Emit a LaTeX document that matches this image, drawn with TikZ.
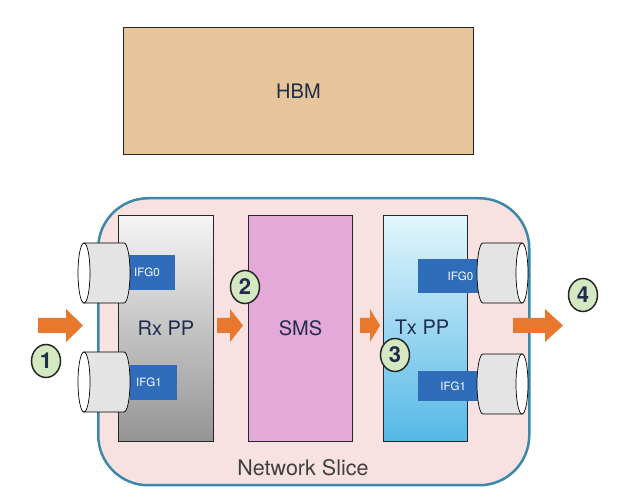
\documentclass[tikz,border=0pt]{standalone}
\usepackage{fontspec}
\setmainfont{TeX Gyre Heros}
\usetikzlibrary{shapes.geometric}

\definecolor{hbmtan}{HTML}{E6C59A}
\definecolor{slicepink}{HTML}{F7E1E1}
\definecolor{sliceblue}{HTML}{3C88A8}
\definecolor{smspink}{HTML}{E4A9D8}
\definecolor{ifgblue}{HTML}{2F6DBB}
\definecolor{cylgray}{HTML}{E4E4E4}
\definecolor{stepgreen}{HTML}{D4E8C2}
\definecolor{flowor}{HTML}{E8782E}
\definecolor{navy}{HTML}{1F2D4D}
\definecolor{txtop}{HTML}{E2F6FC}
\definecolor{txmid}{HTML}{9FDCF2}
\definecolor{txbot}{HTML}{55B8E6}

\tikzset{
  block/.style={draw=black!85, line width=0.9pt, anchor=north west, inner sep=0pt,
    text=navy, font=\fontsize{20}{24}\selectfont},
  ifg/.style={fill=ifgblue, anchor=north west, inner sep=0pt},
  ifglabel/.style={text=white, font=\fontsize{11.5}{13}\selectfont, inner sep=0pt},
  stepmark/.style={ellipse, draw=black!85, line width=1.5pt, fill=stepgreen,
    minimum width=29pt, minimum height=33pt, inner sep=0pt, text=navy,
    font=\fontsize{22}{24}\selectfont\bfseries},
  cyl/.style={fill=cylgray, draw=black, line width=0.7pt},
}

\begin{document}
\begin{tikzpicture}[x=1pt,y=-1pt]
  \useasboundingbox (0,0) rectangle (630,502);

  % memory
  \node[block, fill=hbmtan, minimum width=350pt, minimum height=127pt] (hbm) at (123,27) {HBM};

  % slice
  \node[draw=sliceblue, line width=2.5pt, fill=slicepink, rounded corners=50pt,
    minimum width=431pt, minimum height=287pt, anchor=north west] (slice) at (97,197) {};
  \node[text=black!75, font=\fontsize{21.5}{24}\selectfont] (slicename) at (303,468) {Network Slice};

  % pipelines
  \node[block, top color=black!4, middle color=black!12, bottom color=black!42,
    minimum width=95pt, minimum height=226pt] (rxpp) at (118,215) {Rx PP};
  \node[block, fill=smspink, minimum width=104pt, minimum height=226pt] (sms) at (248,215) {SMS};
  \node[block, top color=txtop, middle color=txmid, bottom color=txbot,
    minimum width=84pt, minimum height=226pt] (txpp) at (383,215) {};
  \node[text=navy, font=\fontsize{20}{24}\selectfont] (txname) at (422,327) {Tx PP};

  % interface groups
  \node[ifg, minimum width=46pt, minimum height=35pt] (rxifg0) at (129,255) {};
  \node[ifg, minimum width=47pt, minimum height=35pt] (rxifg1) at (130,365) {};
  \node[ifg, minimum width=60pt, minimum height=34pt] (txifg0) at (418,259) {};
  \node[ifg, minimum width=62pt, minimum height=30pt] (txifg1) at (418,371) {};
  \node[ifglabel, anchor=west] at ([xshift=5pt]rxifg0.west) {IFG0};
  \node[ifglabel, anchor=west] at ([xshift=6pt]rxifg1.west) {IFG1};
  \node[ifglabel, anchor=east] at ([xshift=-5pt]txifg0.east) {IFG0};
  \node[ifglabel] at ([xshift=4pt]txifg1.center) {IFG1};

  % ports
  \foreach \cx/\cy in {84/273, 84/382}
  {
    \filldraw[cyl] (\cx,\cy-30) -- (\cx+40,\cy-30)
      arc[start angle=-90, end angle=90, x radius=6, y radius=30] -- (\cx,\cy+30) -- cycle;
    \filldraw[cyl, fill=white] (\cx,\cy) ellipse[x radius=6, y radius=30];
  }
  \foreach \cx/\cy in {483/273, 483/384}
  {
    \filldraw[cyl] (\cx,\cy-30)
      arc[start angle=-90, end angle=-270, x radius=6, y radius=30] -- (\cx+39,\cy+30) -- (\cx+39,\cy-30) -- cycle;
    \filldraw[cyl, fill=white] (\cx+39,\cy) ellipse[x radius=6, y radius=30];
  }

  % flow arrows
  \foreach \a/\h/\b in {38/66/83, 217/230/243, 360/370/380, 513/545/563}
  {
    \fill[flowor] (\a,318) -- (\h,318) -- (\h,309) -- (\b,325.5) -- (\h,342) -- (\h,333) -- (\a,333) -- cycle;
  }

  % steps
  \node[stepmark] (s1) at (46,361) {1};
  \node[stepmark] (s2) at (245,287) {2};
  \node[stepmark] (s3) at (395,355) {3};
  \node[stepmark] (s4) at (583,295) {4};
\end{tikzpicture}
\end{document}
